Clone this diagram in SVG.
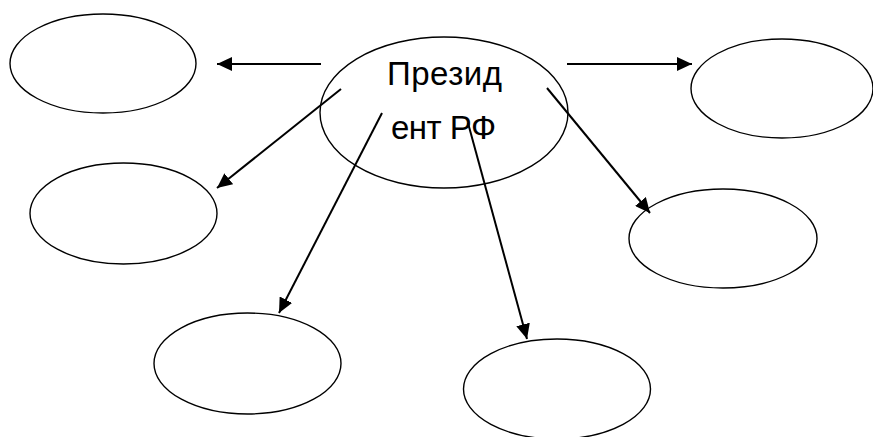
<svg xmlns="http://www.w3.org/2000/svg" width="873" height="437" viewBox="0 0 873 437">
<style>
.node ellipse{fill:#fff;stroke:#000;stroke-width:1.4}
.conn line{stroke:#000;stroke-width:2;marker-end:url(#ah)}
.lbl{font-family:"Liberation Sans",Arial,sans-serif;font-size:33px;fill:#000}
</style>
<defs>
<marker id="ah" markerUnits="userSpaceOnUse" markerWidth="16" markerHeight="14" refX="15" refY="7" orient="auto" viewBox="0 0 16 14">
<path d="M0,0 L15,7 L0,14 z" fill="#000"/>
</marker>
</defs>
<rect width="873" height="437" fill="#fff"/>
<g id="n-top-left" class="node"><ellipse cx="103" cy="63.5" rx="93" ry="49.5"/></g>
<g id="n-mid-left" class="node"><ellipse cx="123.5" cy="213.5" rx="93.5" ry="50.5"/></g>
<g id="n-bottom-left" class="node"><ellipse cx="247.5" cy="363.5" rx="93.5" ry="50.5"/></g>
<g id="n-bottom-mid" class="node"><ellipse cx="557" cy="389" rx="93.5" ry="50"/></g>
<g id="n-mid-right" class="node"><ellipse cx="723" cy="238.5" rx="94" ry="49.5"/></g>
<g id="n-top-right" class="node"><ellipse cx="782" cy="88.5" rx="91" ry="49.5"/></g>
<g id="n-center" class="node"><ellipse cx="444" cy="112.5" rx="124" ry="75.5"/>
<text class="lbl" x="387" y="85" textLength="115">Презид</text>
<text class="lbl" x="391" y="139" textLength="105">ент РФ</text>
</g>
<g id="connectors" class="conn">
<line x1="321" y1="64" x2="217" y2="64"/>
<line x1="567" y1="64" x2="692" y2="64"/>
<line x1="341" y1="89" x2="217" y2="188"/>
<line x1="382" y1="113" x2="279" y2="313"/>
<line x1="468" y1="123" x2="527" y2="339"/>
<line x1="547" y1="88" x2="650" y2="213"/>
</g>
</svg>
